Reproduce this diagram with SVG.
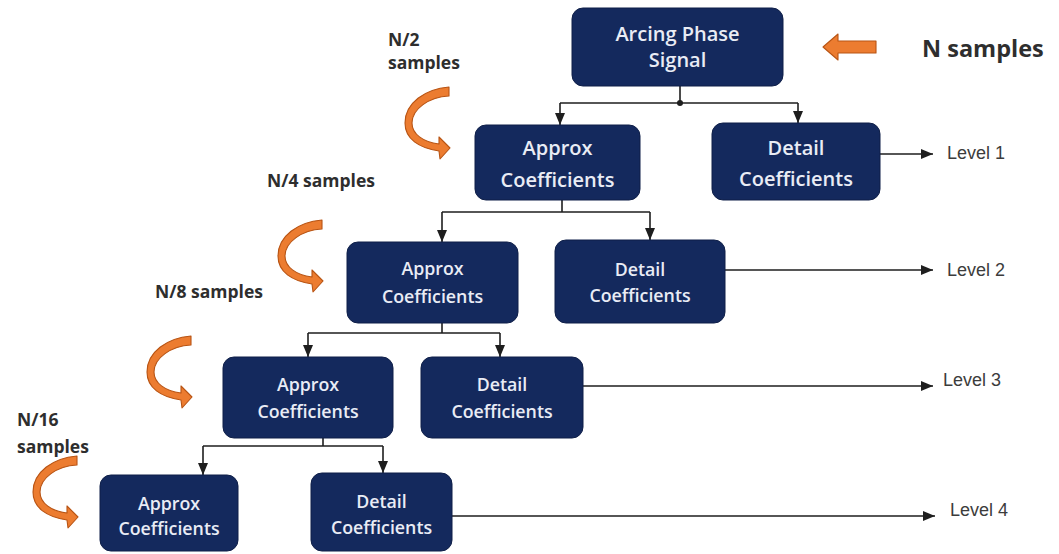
<svg xmlns="http://www.w3.org/2000/svg" xmlns:xlink="http://www.w3.org/1999/xlink" width="1059" height="554" viewBox="0 0 1059 554">
  <style>
    .box { fill: #14295d; stroke: #0f1f48; stroke-width: 1; }
    .bt { font-family: "Open Sans", "Liberation Sans", sans-serif; font-weight: 600; fill: #e9ecf5; text-anchor: middle; }
    .b1 { font-size: 20px; }
    .b2 { font-size: 17.8px; }
    .lbl { font-family: "Open Sans", "Liberation Sans", sans-serif; font-weight: 700; fill: #2e2e2e; font-size: 17.5px; }
    .lvl { font-family: "Liberation Sans", Arial, sans-serif; fill: #3c3c3c; font-size: 18px; }
    .con { fill: none; stroke: #1e1e1e; stroke-width: 1.6; }
    .orange { fill: #ec7c30; stroke: #b85414; stroke-width: 1.1; stroke-linejoin: round; }
  </style>
  <defs>
    <marker id="ah" viewBox="0 0 12 10" refX="12" refY="5" markerWidth="12" markerHeight="10" orient="auto" markerUnits="userSpaceOnUse">
      <path d="M0,0 L12,5 L0,10 Z" fill="#1e1e1e"/>
    </marker>
    <!-- curved "halving" arrow, drawn in a 45x73 local frame -->
    <path id="curl" class="orange" d="M44,0 C20,2 0,16 0,36 C0,52 14,61 34,64 L35,72 L45,61 L34,50 L34,57 C18,55 7,47 7,36 C7,22 24,10 44,9 Z"/>
  </defs>

  <rect width="1059" height="554" fill="#ffffff"/>

  <!-- connectors -->
  <g id="connectors">
    <!-- split below the input signal -->
    <path class="con" d="M680,86 V103"/>
    <path class="con" d="M560,103 H798"/>
    <circle cx="680" cy="103" r="3" fill="#1e1e1e"/>
    <path class="con" d="M560,103 V125" marker-end="url(#ah)"/>
    <path class="con" d="M798,103 V123" marker-end="url(#ah)"/>
    <!-- level 2 split -->
    <path class="con" d="M562,200 V212"/>
    <path class="con" d="M442,212 H650"/>
    <path class="con" d="M442,212 V242" marker-end="url(#ah)"/>
    <path class="con" d="M650,212 V240" marker-end="url(#ah)"/>
    <!-- level 3 split -->
    <path class="con" d="M442,323 V333"/>
    <path class="con" d="M308,333 H500"/>
    <path class="con" d="M308,333 V357" marker-end="url(#ah)"/>
    <path class="con" d="M500,333 V357" marker-end="url(#ah)"/>
    <!-- level 4 split -->
    <path class="con" d="M323,438 V446"/>
    <path class="con" d="M203,446 H383"/>
    <path class="con" d="M203,446 V475" marker-end="url(#ah)"/>
    <path class="con" d="M383,446 V473" marker-end="url(#ah)"/>
    <!-- detail outputs to levels -->
    <path class="con" d="M880,154 H933" marker-end="url(#ah)"/>
    <path class="con" d="M725,270 H933" marker-end="url(#ah)"/>
    <path class="con" d="M583,386 H933" marker-end="url(#ah)"/>
    <path class="con" d="M452,516 H935" marker-end="url(#ah)"/>
  </g>

  <!-- nodes -->
  <g id="signal">
    <rect class="box" x="572" y="8" width="211" height="78" rx="11"/>
    <text class="bt b1" x="677.5" y="41">Arcing Phase</text>
    <text class="bt b1" x="677.5" y="67">Signal</text>
  </g>
  <g id="approx1">
    <rect class="box" x="475" y="125" width="165" height="75" rx="11"/>
    <text class="bt b1" x="557.5" y="155">Approx</text>
    <text class="bt b1" x="557.5" y="187">Coefficients</text>
  </g>
  <g id="detail1">
    <rect class="box" x="712" y="123" width="168" height="77" rx="11"/>
    <text class="bt b1" x="796" y="155">Detail</text>
    <text class="bt b1" x="796" y="186">Coefficients</text>
  </g>
  <g id="approx2">
    <rect class="box" x="347" y="242" width="171" height="81" rx="11"/>
    <text class="bt b2" x="432.5" y="275">Approx</text>
    <text class="bt b2" x="432.5" y="303">Coefficients</text>
  </g>
  <g id="detail2">
    <rect class="box" x="555" y="240" width="170" height="83" rx="11"/>
    <text class="bt b2" x="640" y="276">Detail</text>
    <text class="bt b2" x="640" y="302">Coefficients</text>
  </g>
  <g id="approx3">
    <rect class="box" x="223" y="357" width="170" height="81" rx="11"/>
    <text class="bt b2" x="308" y="391">Approx</text>
    <text class="bt b2" x="308" y="418">Coefficients</text>
  </g>
  <g id="detail3">
    <rect class="box" x="421" y="357" width="162" height="81" rx="11"/>
    <text class="bt b2" x="502" y="391">Detail</text>
    <text class="bt b2" x="502" y="418">Coefficients</text>
  </g>
  <g id="approx4">
    <rect class="box" x="100" y="475" width="138" height="76" rx="11"/>
    <text class="bt b2" x="169" y="510">Approx</text>
    <text class="bt b2" x="169" y="535">Coefficients</text>
  </g>
  <g id="detail4">
    <rect class="box" x="311" y="473" width="141" height="78" rx="11"/>
    <text class="bt b2" x="381.5" y="508">Detail</text>
    <text class="bt b2" x="381.5" y="534">Coefficients</text>
  </g>

  <!-- level labels -->
  <g id="levels">
    <text class="lvl" x="947" y="159">Level 1</text>
    <text class="lvl" x="947" y="276">Level 2</text>
    <text class="lvl" x="943" y="386">Level 3</text>
    <text class="lvl" x="950" y="516">Level 4</text>
  </g>

  <!-- sample counts -->
  <g id="samples">
    <path class="orange" d="M823,47 L838,34 L838,41 L876,41 L876,53 L838,53 L838,60 Z"/>
    <text class="lbl" x="922" y="57" style="font-size:23.5px">N samples</text>

    <text class="lbl" x="388" y="46">N/2</text>
    <text class="lbl" x="388" y="69">samples</text>
    <use xlink:href="#curl" x="405" y="87"/>

    <text class="lbl" x="267" y="187">N/4 samples</text>
    <use xlink:href="#curl" x="278" y="220"/>

    <text class="lbl" x="155" y="298">N/8 samples</text>
    <use xlink:href="#curl" x="147" y="336"/>

    <text class="lbl" x="17" y="426">N/16</text>
    <text class="lbl" x="17" y="453">samples</text>
    <use xlink:href="#curl" x="33" y="456"/>
  </g>
</svg>
